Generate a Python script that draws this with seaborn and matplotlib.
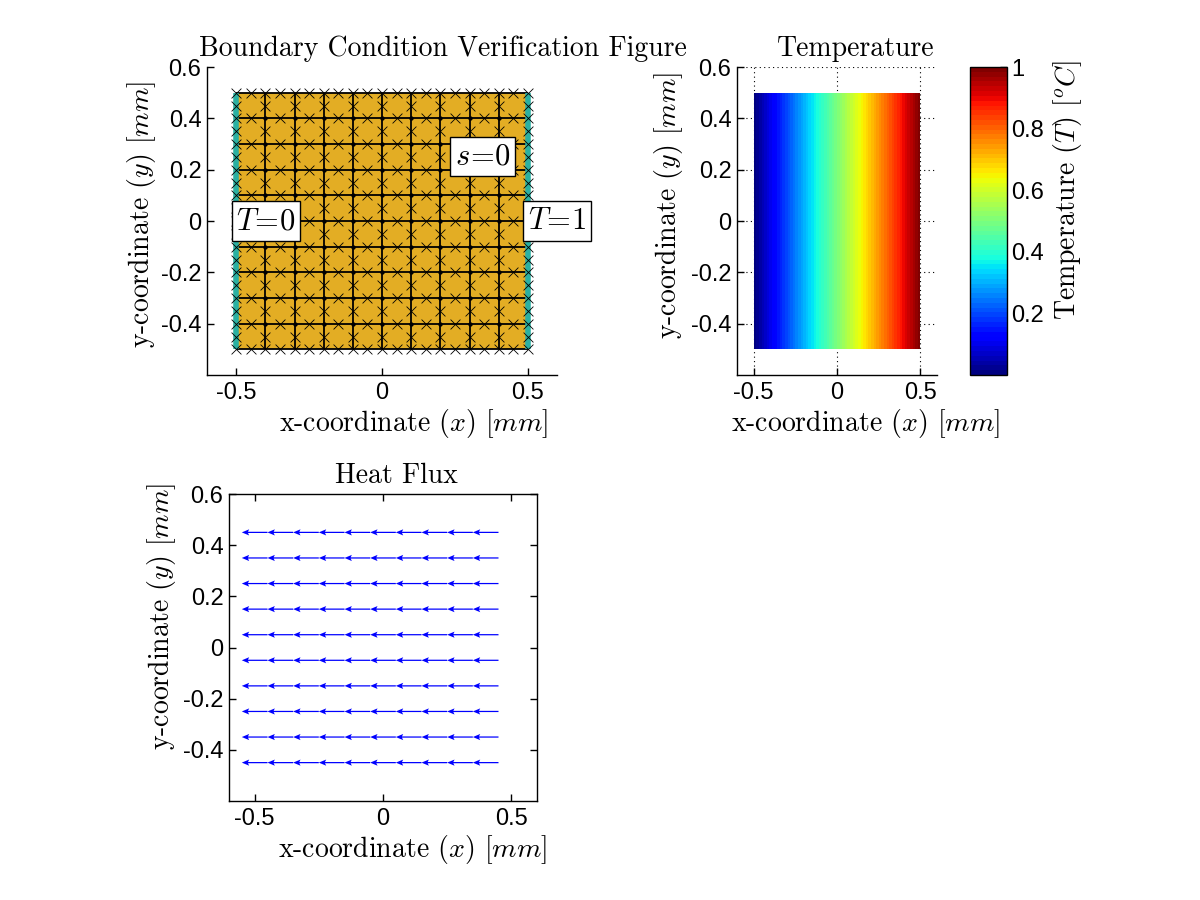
import numpy as np
import pandas as pd
import matplotlib
matplotlib.use("Agg")
import matplotlib.pyplot as plt
import matplotlib.colors as mcolors
import seaborn as sns

# mesh: element edges and node positions (mm)
grid_lines = [-0.5, -0.4, -0.3, -0.2, -0.1, 0.0, 0.1, 0.2, 0.3, 0.4, 0.5]
node_pos = [-0.5, -0.45, -0.4, -0.35, -0.3, -0.25, -0.2, -0.15, -0.1, -0.05, 0.0,
            0.05, 0.1, 0.15, 0.2, 0.25, 0.3, 0.35, 0.4, 0.45, 0.5]
domain_x = [-0.5, 0.5]
domain_y = [-0.5, 0.5]
dirichlet_x = [-0.5, 0.5]

# boundary condition labels (x, y, text)
bc_labels = [(-0.5, 0.0, r"$T\!=\!0$"), (0.5, 0.0, r"$T\!=\!1$"), (0.25, 0.25, r"$s\!=\!0$")]

# nodal temperature along x (uniform in y)
temp_x = grid_lines
temp_y = [-0.5, 0.5]
temp_vals = [0.0, 0.1, 0.2, 0.3, 0.4, 0.5, 0.6, 0.7, 0.8, 0.9, 1.0]

# heat flux at element centres
flux_x = [-0.45, -0.35, -0.25, -0.15, -0.05, 0.05, 0.15, 0.25, 0.35, 0.45]
flux_y = [-0.45, -0.35, -0.25, -0.15, -0.05, 0.05, 0.15, 0.25, 0.35, 0.45]
flux_qx = -1.0
flux_qy = 0.0

cbar_ticks = [0.2, 0.4, 0.6, 0.8, 1.0]

sns.set_style("white")
plt.rcParams['font.family'] = ['Liberation Sans', 'DejaVu Sans']
plt.rcParams['mathtext.fontset'] = 'cm'
plt.rcParams['axes.unicode_minus'] = False
for k in ('text.color', 'axes.labelcolor', 'xtick.color', 'ytick.color', 'axes.edgecolor'):
    plt.rcParams[k] = 'black'
serif = 'cmr10'
lab_fs = 20
tick_fs = 17

fig = plt.figure(figsize=(12, 9), dpi=100)
ax1 = fig.add_axes([0.1725, 0.5833, 0.2917, 0.3422])
ax2 = fig.add_axes([0.6142, 0.5833, 0.1667, 0.3422])
cax = fig.add_axes([0.8083, 0.5833, 0.0308, 0.3422])
ax3 = fig.add_axes([0.1908, 0.11, 0.2567, 0.3411])

orange = '#E3AD24'
teal = '#2BB0A2'

# --- boundary condition figure
ax1.fill_between(domain_x, domain_y[0], domain_y[1], color=orange, lw=0, zorder=1)
ax1.vlines(grid_lines, domain_y[0], domain_y[1], color='black', lw=1.3, zorder=2)
ax1.hlines(grid_lines, domain_x[0], domain_x[1], color='black', lw=1.3, zorder=2)
ax1.vlines(dirichlet_x, domain_y[0], domain_y[1], color=teal, lw=4, zorder=3)

rows = []
last = len(node_pos) - 1
for i, xv in enumerate(node_pos):
    for j, yv in enumerate(node_pos):
        if i % 2 == 1 and j % 2 == 1:
            continue
        edge = i in (0, last) or j in (0, last)
        corner = i % 2 == 0 and j % 2 == 0
        rows.append({'x': xv, 'y': yv, 'kind': 'corner' if (corner and not edge) else 'mid'})
nodes = pd.DataFrame(rows)
sns.scatterplot(data=nodes[nodes['kind'] == 'mid'], x='x', y='y', marker='x', s=50,
                color='black', linewidth=0.6, ax=ax1, zorder=4, legend=False)
sns.scatterplot(data=nodes[nodes['kind'] == 'corner'], x='x', y='y', marker='o', s=10,
                color='black', linewidth=0, ax=ax1, zorder=4, legend=False)

for bx, by, txt in bc_labels:
    ax1.text(bx, by, txt, fontsize=22, ha='left', va='center', zorder=5,
             bbox=dict(boxstyle='square,pad=0.15', facecolor='white', edgecolor='black', lw=1))

ax1.set_title("Boundary Condition Verification Figure", fontsize=lab_fs, family=serif,
              x=0.674, pad=8)

# --- temperature field
cmap = plt.get_cmap('jet', 64)
Z = np.array([temp_vals for _ in temp_y])
ax2.contourf(temp_x, temp_y, Z, levels=np.linspace(0, 1, 65), cmap=cmap, zorder=1)
ax2.set_axisbelow(True)
ax2.grid(True, linestyle=(0, (1, 3)), color='black', lw=0.8)
ax2.set_title("Temperature", fontsize=lab_fs, family=serif, x=0.595, pad=8)

sm = plt.cm.ScalarMappable(norm=mcolors.Normalize(0, 1), cmap=cmap)
cb = fig.colorbar(sm, cax=cax, ticks=cbar_ticks)
cb.ax.set_yticklabels(['0.2', '0.4', '0.6', '0.8', '1'])
cb.ax.tick_params(direction='in', length=5, width=1, labelsize=tick_fs, right=True, pad=3)
cb.outline.set_linewidth(1)
cb.set_label(r"Temperature $(T)$ $[^oC]$", fontsize=lab_fs, family=serif)
cb.ax.yaxis.set_label_coords(2.2, 0.6)

# --- heat flux
FX, FY = np.meshgrid(flux_x, flux_y)
ax3.quiver(FX, FY, np.full(FX.shape, flux_qx), np.full(FX.shape, flux_qy),
           angles='xy', scale_units='xy', scale=10, color='blue',
           width=0.004, headwidth=5, headlength=6, headaxislength=5)
ax3.set_title("Heat Flux", fontsize=lab_fs, family=serif, x=0.542, pad=8)

xlab_pos = {ax1: (0.589, -0.105), ax2: (0.645, -0.105), ax3: (0.597, -0.105)}
ylab_pos = {ax1: (-0.14, 0.52), ax2: (-0.26, 0.55), ax3: (-0.166, 0.6)}

for ax in (ax1, ax2, ax3):
    ax.set_xlim(-0.6, 0.6)
    ax.set_ylim(-0.6, 0.6)
    ax.set_xticks([-0.5, 0, 0.5])
    ax.set_xticklabels(['-0.5', '0', '0.5'])
    ax.set_yticks([-0.4, -0.2, 0, 0.2, 0.4, 0.6])
    ax.set_yticklabels(['-0.4', '-0.2', '0', '0.2', '0.4', '0.6'])
    ax.tick_params(direction='in', length=5, width=1, labelsize=tick_fs,
                   bottom=True, left=True, pad=4)
    ax.tick_params(axis='x', pad=5)
    ax.set_xlabel(r"x-coordinate $(x)$ $[mm]$", fontsize=lab_fs, family=serif)
    ax.set_ylabel(r"y-coordinate $(y)$ $[mm]$", fontsize=lab_fs, family=serif)
    ax.xaxis.set_label_coords(*xlab_pos[ax])
    ax.yaxis.set_label_coords(*ylab_pos[ax])
    for sp in ax.spines.values():
        sp.set_color('black')
        sp.set_linewidth(1)

for ax in (ax1, ax2):
    ax.spines['top'].set_visible(False)
    ax.spines['right'].set_visible(False)
ax3.tick_params(top=True, right=True)

fig.savefig("out.png", dpi=100)
